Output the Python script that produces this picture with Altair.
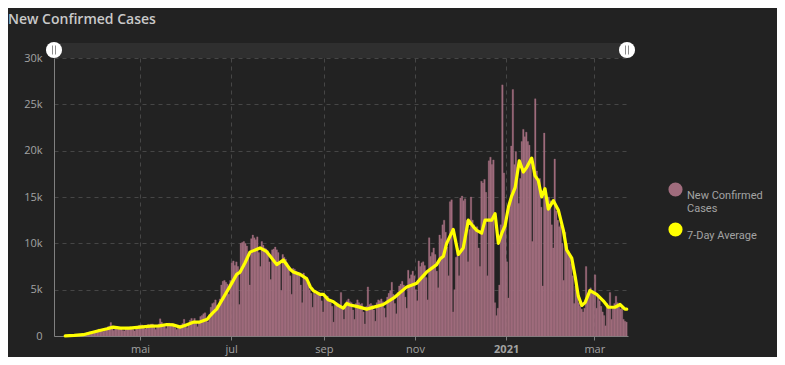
import altair as alt
import pandas as pd

# ---------------- data ----------------
START_DATE = "2020-03-11"

# daily new confirmed cases, in thousands (one value per day from START_DATE)
cases_k = [
    0.01, 0.01, 0.02, 0.02, 0.03, 0.02, 0.05,
    0.06, 0.1, 0.14, 0.2, 0.16, 0.1, 0.18,
    0.25, 0.35, 0.4, 0.45, 0.35, 0.3, 0.5,
    0.55, 0.65, 0.75, 0.7, 0.55, 0.5, 0.75,
    0.85, 1.0, 1.05, 1.45, 0.8, 0.6, 0.95,
    1.0, 0.95, 0.9, 0.85, 0.6, 0.55, 0.9,
    0.95, 0.95, 1.0, 0.9, 0.7, 0.55, 0.85,
    1.05, 1.15, 1.2, 1.2, 1.0, 0.75, 1.05,
    1.25, 1.2, 1.3, 1.3, 1.0, 0.7, 1.0,
    1.3, 1.85, 1.5, 1.3, 1.1, 0.8, 1.1,
    1.4, 1.3, 1.35, 1.1, 0.9, 0.7, 0.9,
    1.0, 1.2, 1.35, 1.8, 1.3, 0.9, 1.3,
    1.7, 1.9, 1.6, 1.9, 1.5, 1.0, 1.4,
    2.1, 2.2, 2.4, 2.5, 1.9, 1.5, 2.3,
    3.1, 3.5, 3.6, 3.9, 3.3, 3.0, 4.0,
    5.5, 5.9, 6.0, 5.8, 5.6, 4.5, 6.0,
    7.9, 8.1, 7.6, 8.0, 7.5, 3.4, 10.0,
    10.1, 10.2, 10.0, 9.7, 8.5, 5.5, 10.5,
    10.9, 10.6, 10.4, 10.7, 9.0, 7.5, 10.2,
    9.8, 9.5, 9.4, 9.2, 8.0, 6.1, 9.3,
    9.4, 9.6, 9.3, 9.0, 7.8, 4.9, 8.8,
    8.5, 8.3, 7.9, 7.5, 6.5, 4.5, 7.3,
    7.2, 7.0, 6.9, 6.5, 5.5, 3.6, 6.8,
    6.2, 5.8, 5.6, 5.0, 4.6, 3.1, 4.7,
    4.5, 4.6, 4.7, 4.4, 3.8, 2.6, 4.3,
    4.0, 4.3, 3.9, 3.6, 3.2, 1.5, 3.4,
    3.6, 3.5, 3.3, 4.7, 3.0, 1.8, 3.5,
    3.8, 4.0, 3.7, 3.6, 2.8, 1.8, 3.5,
    3.9, 3.6, 3.4, 3.5, 2.6, 1.3, 3.2,
    5.3, 3.4, 3.5, 3.3, 2.8, 1.6, 3.6,
    3.9, 3.8, 4.0, 3.7, 3.0, 2.0, 4.2,
    4.6, 4.9, 5.8, 4.5, 3.5, 2.4, 4.7,
    5.4, 5.6, 5.9, 5.5, 4.2, 3.0, 7.1,
    6.2, 6.6, 7.0, 6.5, 5.0, 3.8, 8.1,
    7.5, 7.9, 8.0, 7.6, 6.3, 3.9, 10.6,
    8.6, 9.0, 9.5, 8.8, 7.0, 5.2, 10.9,
    10.5, 12.0, 12.5, 11.2, 9.6, 6.5, 14.5,
    14.7, 2.6, 5.0, 8.5, 9.5, 6.5, 14.9,
    15.1, 14.6, 14.8, 12.5, 8.0, 11.5, 15.0,
    12.5, 12.0, 11.5, 11.8, 9.5, 7.5, 16.7,
    16.5, 16.9, 15.5, 6.5, 18.9, 19.3, 18.5,
    19.0, 3.6, 2.2, 3.0, 5.5, 12.0, 27.1,
    17.6, 12.5, 8.0, 4.1, 14.5, 20.5, 26.6,
    18.5, 19.9, 18.2, 14.3, 17.0, 21.0, 22.3,
    21.5, 22.0, 21.0, 20.6, 19.0, 10.2, 17.8,
    25.6, 17.8, 16.7, 17.0, 13.9, 5.4, 21.9,
    15.7, 14.3, 15.0, 14.6, 12.0, 9.5, 19.1,
    13.5, 12.5, 11.8, 12.0, 10.0, 6.0, 11.2,
    10.0, 9.2, 8.6, 7.8, 6.5, 3.5, 5.4,
    4.8, 3.6, 3.2, 2.9, 2.6, 3.0, 7.5,
    4.5, 5.0, 5.2, 4.8, 4.6, 6.6, 3.0,
    4.3, 3.8, 3.2, 2.6, 2.2, 1.1, 3.5,
    3.3, 4.7, 1.8, 3.0, 3.5, 4.3, 3.6,
    3.2, 2.9, 3.0, 1.8, 1.6, 1.5,
]

# 7-day average line, read at points along the curve: days after START_DATE, value in thousands
avg_day = [
    1, 7, 13, 17.5, 24, 29, 33, 38, 44, 51, 58, 64, 69, 73, 78, 82, 87, 91, 96, 98,
    100, 102.3, 107, 111, 115.7, 118, 121.3, 124.6, 131.3, 135.8, 142.5, 146.9,
    151.4, 153.6, 158.1, 162.5, 165, 167, 171.4, 173.7, 177, 180.4, 183.7, 187,
    189.3, 191.5, 196, 202.7, 209.4, 213.8, 221.6, 229.5, 236.2, 237.2, 242.8,
    249.5, 251.7, 254, 256.2, 260.6, 264, 267.3, 270.7, 274, 276.3, 279.6, 281.9,
    286.3, 288.6, 290.8, 293.1, 295.3, 297.5, 299.7, 302, 304.8, 307.5, 309.8,
    313.1, 315.3, 317.5, 319.8, 322, 324.2, 327.6, 330.9, 334.3, 336.5, 339.9,
    342.1, 344.3, 346.6, 348.8, 352.1, 356.6, 361, 364.4, 368.8, 372.2, 375.5, 376.7,
]
avg_k = [
    0.02, 0.06, 0.14, 0.32, 0.6, 0.78, 0.96, 0.85, 0.85, 0.96, 1.06, 1.1, 1.24, 1.2, 0.96, 1.2, 1.5, 1.5, 1.8, 2.2,
    2.55, 2.9, 4.2, 5.3, 6.65, 6.9, 7.9, 9.05, 9.5, 9.1, 7.7, 8.2,
    7.2, 6.9, 6.65, 6.2, 5.3, 4.9, 4.5, 4.5, 3.9, 3.7, 3.3, 3.0,
    3.5, 3.35, 3.2, 2.9, 3.2, 3.4, 4.2, 5.3, 5.7, 5.9, 6.9,
    7.7, 8.3, 8.6, 10.0, 11.5, 8.8, 9.5, 12.5, 11.8, 11.4, 11.1, 12.5,
    12.5, 13.2, 10.0, 11.1, 11.9, 13.9, 15.1, 16.0, 18.9, 17.7, 18.2,
    19.2, 17.3, 16.8, 15.0, 15.9, 13.7, 14.6, 13.6, 11.4, 9.3, 8.4,
    6.5, 4.3, 3.3, 3.6, 4.9, 4.5, 3.8, 3.1, 3.1, 3.4, 2.9, 2.9,
]

series_names = ["New Confirmed Cases", "7-Day Average"]
series_colors = ["#a06c7d", "#ffff00"]
month_ticks = [(2020, 5), (2020, 7), (2020, 9), (2020, 11), (2021, 1), (2021, 3)]
y_ticks = [0, 5000, 10000, 15000, 20000, 25000, 30000]

# ---------------- tables ----------------
start = pd.Timestamp(START_DATE)


def iso(ts):
    return ts.strftime("%Y-%m-%dT%H:%M:%SZ")


bars = pd.DataFrame({
    "start": [iso(start + pd.Timedelta(days=i)) for i in range(len(cases_k))],
    "end": [iso(start + pd.Timedelta(days=i + 1)) for i in range(len(cases_k))],
    "cases": [round(v * 1000) for v in cases_k],
    "series": series_names[0],
})
avg = pd.DataFrame({
    "date": [iso(start + pd.Timedelta(days=d)) for d in avg_day],
    "avg": [round(v * 1000) for v in avg_k],
    "series": series_names[1],
})
one = pd.DataFrame({"k": [0]})

# ---------------- styling ----------------
BG = "#222222"
LABEL = "#a3a3a3"
FONT = "Open Sans"
W, H = 574, 278

x_scale = alt.Scale(
    type="utc",
    domain=[alt.DateTime(year=2020, month=3, date=4, hours=11, utc=True),
            alt.DateTime(year=2021, month=3, date=23, hours=13, utc=True)],
    nice=False,
)
y_scale = alt.Scale(domain=[0, 30000], nice=False)

x_axis = alt.Axis(
    title=None,
    values=[alt.DateTime(year=y, month=m, date=1, utc=True) for y, m in month_ticks],
    labelExpr=("utcmonth(datum.value) == 0 ? '' + utcyear(datum.value) : "
               "utcmonth(datum.value) == 2 ? 'mar' : utcmonth(datum.value) == 4 ? 'mai' : "
               "utcmonth(datum.value) == 6 ? 'jul' : utcmonth(datum.value) == 8 ? 'sep' : "
               "utcmonth(datum.value) == 10 ? 'nov' : ''"),
    labelFontWeight={"condition": {"test": "utcmonth(datum.value) == 0", "value": "bold"},
                     "value": "normal"},
    grid=True, gridDash=[4, 4], gridColor="#464646", gridWidth=1,
    domainColor="#808080", tickColor="#808080", tickSize=4,
    labelColor=LABEL, labelFont=FONT, labelFontSize=11, labelPadding=3,
)
y_axis = alt.Axis(
    title=None,
    values=y_ticks,
    labelExpr="datum.value == 0 ? '0' : (datum.value / 1000) + 'k'",
    grid=True, gridDash=[4, 4], gridColor="#464646", gridWidth=1,
    domainColor="#808080", ticks=False,
    labelColor=LABEL, labelFont=FONT, labelFontSize=11, labelPadding=12,
)

legend = alt.Legend(
    title=None, orient="none", legendX=614, legendY=124, direction="vertical",
    symbolType="circle", symbolSize=200, symbolStrokeWidth=0, symbolOpacity=1,
    labelColor=LABEL, labelFont="Roboto", labelFontSize=11, labelOffset=4, labelLimit=120,
    labelBaseline="top", rowPadding=8, padding=0,
    labelExpr="datum.label == 'New Confirmed Cases' ? ['New Confirmed', 'Cases'] : datum.label",
)
color = alt.Color("series:N", scale=alt.Scale(domain=series_names, range=series_colors), legend=legend)

bar_layer = alt.Chart(bars).mark_rect(stroke=series_colors[0], strokeWidth=0.3).encode(
    x=alt.X("start:T", scale=x_scale, axis=x_axis),
    x2="end:T",
    y=alt.Y("cases:Q", scale=y_scale, axis=y_axis),
    y2=alt.datum(0),
    color=color,
)
line_layer = alt.Chart(avg).mark_line(strokeWidth=3.2, strokeJoin="round", strokeCap="round").encode(
    x=alt.X("date:T", scale=x_scale),
    y=alt.Y("avg:Q", scale=y_scale),
    color=color,
)

# scrollbar decoration above the plot
scroll = alt.Chart(one).mark_rect(color="#2f2f2f").encode(
    x=alt.value(0), x2=alt.value(W), y=alt.value(-15), y2=alt.value(0)
)
handles = []
for hx in (0, W - 1):
    handles.append(alt.Chart(one).mark_circle(size=260, color="white", opacity=1).encode(
        x=alt.value(hx), y=alt.value(-8)))
    for gx in (-1.5, 1.5):
        handles.append(alt.Chart(one).mark_rule(color="#8c8c8c", strokeWidth=1).encode(
            x=alt.value(hx + gx), y=alt.value(-12.5), y2=alt.value(-3.5)))

chart = alt.layer(bar_layer, line_layer, scroll, *handles).properties(
    width=W, height=H,
    padding={"left": 46, "top": 50, "right": 149, "bottom": 21},
    autosize=alt.AutoSizeParams(type="none"),
    title=alt.TitleParams(
        "New Confirmed Cases", anchor="start", frame="group", dx=-46, dy=5, color="#c9c9c9",
        font=FONT, fontSize=14, fontWeight=600, offset=20,
    ),
).configure(background=BG).configure_view(stroke=None)

chart.save("out.html", embed_options={"renderer": "svg", "actions": False})
